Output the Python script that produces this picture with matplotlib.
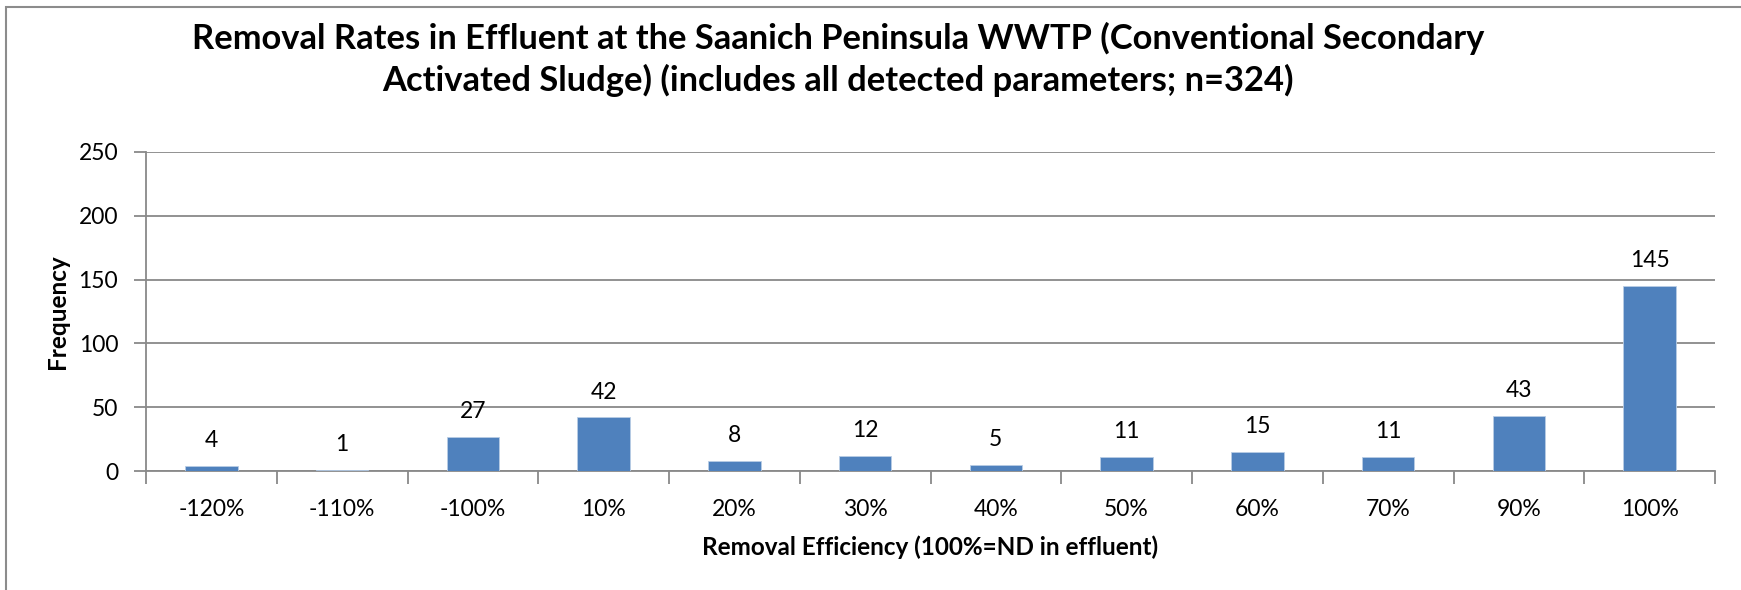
import matplotlib
matplotlib.use('Agg')
import matplotlib.pyplot as plt
from matplotlib.patches import Rectangle
import numpy as np

# data
categories = ['-120%', '-110%', '-100%', '10%', '20%', '30%', '40%',
              '50%', '60%', '70%', '90%', '100%']
frequency = [4, 1, 27, 42, 8, 12, 5, 11, 15, 11, 43, 145]

title = ('Removal Rates in Effluent at the Saanich Peninsula WWTP (Conventional Secondary\n'
         'Activated Sludge) (includes all detected parameters; n=324)')

plt.rcParams['font.family'] = ['Lato', 'DejaVu Sans']
grey = '#898989'
bar_color = '#4F81BD'

fig = plt.figure(figsize=(17.41, 5.9), dpi=100)
ax = fig.add_axes([146/1741, 1 - 471/590, (1715-146)/1741, (471-152)/590])

x = np.arange(len(categories))
bars = ax.bar(x, frequency, width=0.4, color=bar_color, edgecolor='#B9CDE5',
              linewidth=0.6, zorder=3)

for xi, v in zip(x, frequency):
    ax.annotate(str(v), (xi, v), xytext=(0, 13.5), textcoords='offset points',
                ha='center', va='baseline', fontsize=16.5)

ax.set_xlim(-0.5, len(categories) - 0.5)
ax.set_ylim(0, 250)
ax.set_yticks(np.arange(0, 251, 50))
ax.yaxis.grid(True, color=grey, linewidth=1.3, zorder=0)

ax.set_xticks(x)
ax.set_xticklabels(categories)
ax.set_xticks(np.arange(-0.5, len(categories)), minor=True)
ax.tick_params(axis='x', which='major', length=0, pad=20, labelsize=16.5)
ax.tick_params(axis='x', which='minor', length=9, width=1.3, color=grey)
ax.tick_params(axis='y', length=9, width=1.3, color=grey, pad=11, labelsize=16.5)

for s in ['top', 'right']:
    ax.spines[s].set_visible(False)
for s in ['left', 'bottom']:
    ax.spines[s].set_color(grey)
    ax.spines[s].set_linewidth(1.3)

ax.set_ylabel('Frequency', fontsize=17.5, fontweight='bold', labelpad=7)
ax.set_xlabel('Removal Efficiency (100%=ND in effluent)', fontsize=17.5,
              fontweight='bold', labelpad=11)

fig.text(838/1741, 1 - 59/590, title, ha='center', va='center',
         multialignment='center', fontsize=24.8, fontweight='bold', linespacing=1.33)

# chart border (only top and left visible in the crop)
fig.add_artist(Rectangle((6/1741, -0.5), 2, 0.5 + 1 - 7/590, transform=fig.transFigure,
                         fill=False, edgecolor='#8C8C8C', linewidth=1.5))

fig.savefig('out.png', dpi=100)
